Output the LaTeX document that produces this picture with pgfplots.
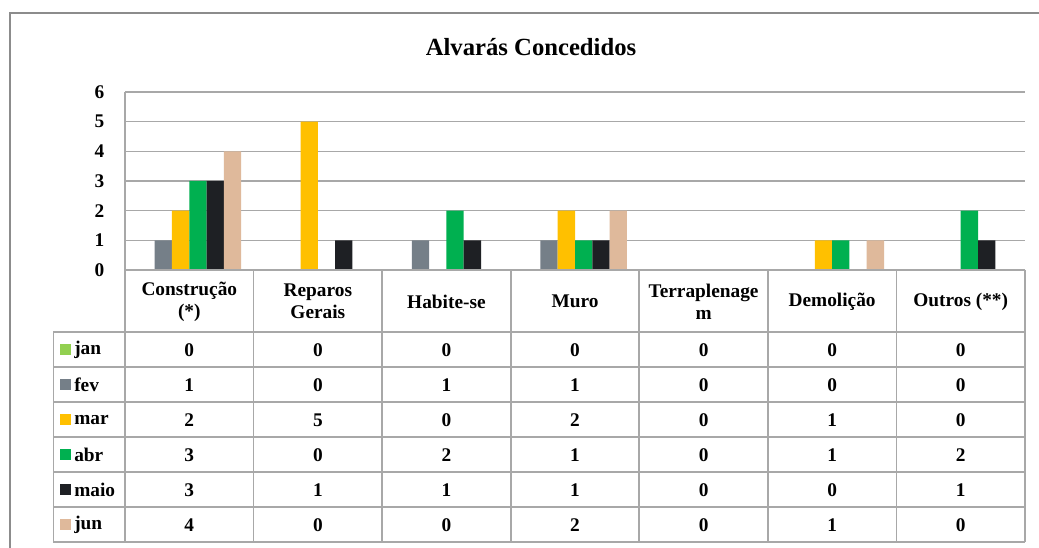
\documentclass[border=0pt]{standalone}
\usepackage{pgfplots}
\usepackage{pgfplotstable}
\pgfplotsset{compat=1.18}
\usepackage{fontspec}
\setmainfont{Liberation Serif}
\definecolor{cjan}{HTML}{92D050}
\definecolor{cfev}{HTML}{757F88}
\definecolor{cmar}{HTML}{FFC000}
\definecolor{cabr}{HTML}{00B050}
\definecolor{cmaio}{HTML}{1E2024}
\definecolor{cjun}{HTML}{DFB99B}
\definecolor{gridc}{HTML}{A8A8A8}
\definecolor{framec}{HTML}{8C8C8C}
\pgfplotstableread{
cat jan fev mar abr maio jun
0 0 1 2 3 3 4
1 0 0 5 0 1 0
2 0 1 0 2 1 0
3 0 1 2 1 1 2
4 0 0 0 0 0 0
5 0 0 1 1 0 1
6 0 0 0 2 1 0
}\datatable
\newcommand{\tf}{\fontsize{14.5pt}{16.5pt}\selectfont\bfseries}
\begin{document}
\begin{tikzpicture}[x=0.75pt,y=0.75pt]
\useasboundingbox (0,0) rectangle (1039,548);
\fill[white] (0,0) rectangle (1039,548);
\begin{axis}[
  at={(93.75pt,208.5pt)}, anchor=south west,
  scale only axis, width=675pt, height=133.5pt,
  xmin=-0.5, xmax=6.5, ymin=0, ymax=6,
  ytick={0,...,6}, xtick=\empty,
  ymajorgrids, grid style={gridc, line width=1pt},
  axis line style={draw=none},
  major tick length=0pt,
  ybar=0pt, bar width=12.97pt,
  /pgf/number format/assume math mode=true,
  yticklabel style={font=\tf, anchor=east, xshift=-12pt},
  clip=false,
]
\addplot[fill=cjan, draw=none] table[x=cat, y=jan] {\datatable};
\addplot[fill=cfev, draw=none] table[x=cat, y=fev] {\datatable};
\addplot[fill=cmar, draw=none] table[x=cat, y=mar] {\datatable};
\addplot[fill=cabr, draw=none] table[x=cat, y=abr] {\datatable};
\addplot[fill=cmaio, draw=none] table[x=cat, y=maio] {\datatable};
\addplot[fill=cjun, draw=none] table[x=cat, y=jun] {\datatable};
\end{axis}
\begin{scope}[shift={(0,548)}, yscale=-1]
% frame
\draw[framec, line width=2pt] (10,548) -- (10,13) -- (1039,13);
% title
\node[font=\fontsize{18.5pt}{20pt}\selectfont\bfseries] at (531,47) {Alvarás Concedidos};
% table lines
\begin{scope}[gridc, line width=1.2pt]
\draw (125,92) -- (125,542.3);
\foreach \i in {1,...,7} { \draw ({125+128.57*\i},270) -- ({125+128.57*\i},542.3); }
\draw (125,270) -- (1025,270);
\foreach \j in {0,...,6} { \draw (53.3,{332.3+35*\j}) -- (1025,{332.3+35*\j}); }
\draw (53.3,332.3) -- (53.3,542.3);
\end{scope}
% header
\foreach \lab [count=\c from 0] in {{Construção\\(*)},{Reparos\\Gerais},{Habite-se},{Muro},{Terraplenage\\m},{Demolição},{Outros (**)}} {
  \node[font=\tf, align=center, inner sep=0pt] at ({189.3+128.57*\c},301.5) {\lab};
}
% legend column
\foreach \m/\col [count=\r from 0] in {jan/cjan,fev/cfev,mar/cmar,abr/cabr,maio/cmaio,jun/cjun} {
  \fill[\col] (60,{344.5+35*\r}) rectangle (71,{355+35*\r});
  \node[font=\tf, anchor=west, inner sep=0pt] at (74,{350+35*\r}) {\m};
}
% values
\foreach \c in {0,...,6} {
  \foreach \m [count=\r from 0] in {jan,fev,mar,abr,maio,jun} {
    \pgfplotstablegetelem{\c}{\m}\of\datatable
    \node[font=\tf, inner sep=0pt] at ({189.3+128.57*\c},{350.5+35*\r}) {\pgfplotsretval};
  }
}
\end{scope}
\end{tikzpicture}
\end{document}
